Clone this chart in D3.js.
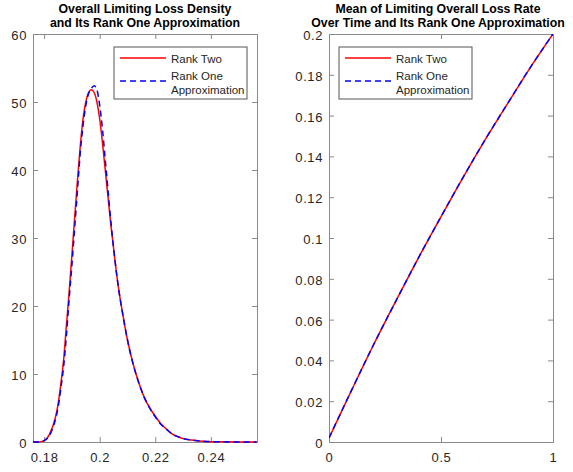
<!DOCTYPE html>
<html><head><meta charset="utf-8">
<script src="https://cdn.jsdelivr.net/npm/d3@7"></script>
<style>body{margin:0;background:#fff}svg{display:block}</style>
</head><body>
<svg id="c" width="573" height="472"></svg>
<script>
// Left panel: density
const densityX   = [0.176,0.178,0.180,0.182,0.184,0.185,0.186,0.187,0.188,0.189,0.190,0.191,0.192,0.193,0.194,0.195,0.196,0.197,0.198,0.199,0.200,0.201,0.202,0.203,0.204,0.205,0.206,0.207,0.208,0.210,0.212,0.214,0.216,0.218,0.220,0.222,0.224,0.226,0.228,0.230,0.233,0.236,0.240,0.245,0.2565];
const rankTwoDensity = [0,0,0.2,1.2,3.5,5.5,8.5,12,17,22,27.5,33,38.5,43.5,47.5,50,51.4,51.8,51.4,50,47.5,44,40,36,32,28.5,25,22,19.5,15,11.5,8.8,6.6,5,3.8,2.7,1.9,1.2,0.8,0.5,0.3,0.15,0.05,0.02,0];
const rankOneDensity = [0,0,0.2,1.0,3.2,5.0,7.8,11,15.5,21,26,31.5,37,42.5,46.5,49.5,51.2,52,52.4,51.8,49.5,46,41.5,37,32.5,28.5,25,22,19.5,15,11.5,8.8,6.6,5,3.7,2.6,1.9,1.2,0.8,0.5,0.3,0.15,0.05,0.02,0];
const densityXTicks = [0.18,0.2,0.22,0.24];
const densityYTicks = [0,10,20,30,40,50,60];

// Right panel: mean over time
const timeX = [0,0.1,0.2,0.3,0.4,0.5,0.6,0.7,0.8,0.9,1.0];
const rankTwoMean = [0.002,0.0252,0.0479,0.0694,0.0904,0.1104,0.1300,0.1487,0.1664,0.1838,0.2000];
const rankOneMean = [0.002,0.0252,0.0479,0.0694,0.0904,0.1104,0.1300,0.1487,0.1664,0.1838,0.2000];
const meanXTicks = [0,0.5,1];
const meanYTicks = [0,0.02,0.04,0.06,0.08,0.1,0.12,0.14,0.16,0.18,0.2];

const titles = [["Overall Limiting Loss Density","and Its Rank One Approximation"],
                ["Mean of Limiting Overall Loss Rate","Over Time and Its Rank One Approximation"]];
const legendLabels = [["Rank Two"],["Rank One","Approximation"]];

const svg = d3.select("#c");
const FONT = "Liberation Sans, Arial, Helvetica, sans-serif";
const axisCol = "#262626";
const lineCol = "#8a8a8a";

function panel(opt){
  const g = svg.append("g");
  const x = d3.scaleLinear().domain(opt.xDomain).range([opt.left, opt.right]);
  const y = d3.scaleLinear().domain(opt.yDomain).range([opt.bottom, opt.top]);
  const fmt = d => String(+d.toFixed(4));
  const ax = g.append("g").attr("transform",`translate(0,${opt.bottom})`)
    .call(d3.axisBottom(x).tickValues(opt.xTicks).tickSize(-5).tickPadding(11).tickFormat(fmt));
  const axT = g.append("g").attr("transform",`translate(0,${opt.top})`)
    .call(d3.axisTop(x).tickValues(opt.xTicks).tickSize(-5).tickFormat(""));
  const ay = g.append("g").attr("transform",`translate(${opt.left},0)`)
    .call(d3.axisLeft(y).tickValues(opt.yTicks).tickSize(-5).tickPadding(6).tickFormat(fmt));
  const ayR = g.append("g").attr("transform",`translate(${opt.right},0)`)
    .call(d3.axisRight(y).tickValues(opt.yTicks).tickSize(-5).tickFormat(""));
  [ax,axT,ay,ayR].forEach(a=>{
    a.select(".domain").attr("stroke",lineCol).attr("stroke-width",1);
    a.selectAll(".tick line").attr("stroke",lineCol).attr("stroke-width",1);
    a.selectAll("text").attr("fill",axisCol).style("font-family",FONT).style("font-size","13px")
      .style("letter-spacing","0.6px");
  });
  ay.selectAll(".tick text").attr("dy","0.42em");
  const line = d3.line().x(d=>x(d[0])).y(d=>y(d[1])).curve(d3.curveMonotoneX);
  const clip = "clip"+opt.id;
  g.append("clipPath").attr("id",clip).append("rect")
    .attr("x",opt.left).attr("y",opt.top).attr("width",opt.right-opt.left).attr("height",opt.bottom-opt.top+1);
  const lg = g.append("g").attr("clip-path",`url(#${clip})`);
  lg.append("path").attr("d",line(d3.zip(opt.xs,opt.s1))).attr("fill","none").attr("stroke","#ff0000").attr("stroke-width",1.5);
  lg.append("path").attr("d",line(d3.zip(opt.xs,opt.s2))).attr("fill","none").attr("stroke","#0000ff").attr("stroke-width",1.5).attr("stroke-dasharray","6,4");
  const cx = opt.titleX;
  const t = g.append("text").attr("text-anchor","middle").attr("x",cx)
    .style("font-family",FONT).style("font-size","12.3px").style("font-weight","bold").attr("fill","#000");
  t.append("tspan").attr("x",cx).attr("y",12.5).text(opt.title[0]);
  t.append("tspan").attr("x",cx).attr("y",26.5).text(opt.title[1]);
  const L = opt.legend;
  g.append("rect").attr("x",L.x).attr("y",L.y).attr("width",L.w).attr("height",L.h)
    .attr("fill","#fff").attr("stroke","#555").attr("stroke-width",1);
  g.append("line").attr("x1",L.x+6).attr("x2",L.x+52).attr("y1",L.y+11).attr("y2",L.y+11)
    .attr("stroke","#ff0000").attr("stroke-width",1.5);
  g.append("line").attr("x1",L.x+6).attr("x2",L.x+52).attr("y1",L.y+34).attr("y2",L.y+34)
    .attr("stroke","#0000ff").attr("stroke-width",1.5).attr("stroke-dasharray","6,4");
  const lt = (s,yy)=>g.append("text").attr("x",L.x+57).attr("y",yy).text(s)
    .style("font-family",FONT).style("font-size","11.5px").attr("fill",axisCol);
  lt(legendLabels[0][0], L.y+16);
  lt(legendLabels[1][0], L.y+33);
  lt(legendLabels[1][1], L.y+47);
}

panel({id:1,left:33,right:257,top:34,bottom:442,xDomain:[0.176,0.2566],yDomain:[0,60],
  xTicks:densityXTicks,yTicks:densityYTicks,xs:densityX,s1:rankTwoDensity,s2:rankOneDensity,
  title:titles[0],titleX:145,legend:{x:114,y:47,w:133,h:52}});
panel({id:2,left:329,right:553,top:34,bottom:442,xDomain:[0,1],yDomain:[0,0.2],
  xTicks:meanXTicks,yTicks:meanYTicks,xs:timeX,s1:rankTwoMean,s2:rankOneMean,
  title:titles[1],titleX:438,legend:{x:339,y:47,w:133,h:52}});
</script>
</body></html>
